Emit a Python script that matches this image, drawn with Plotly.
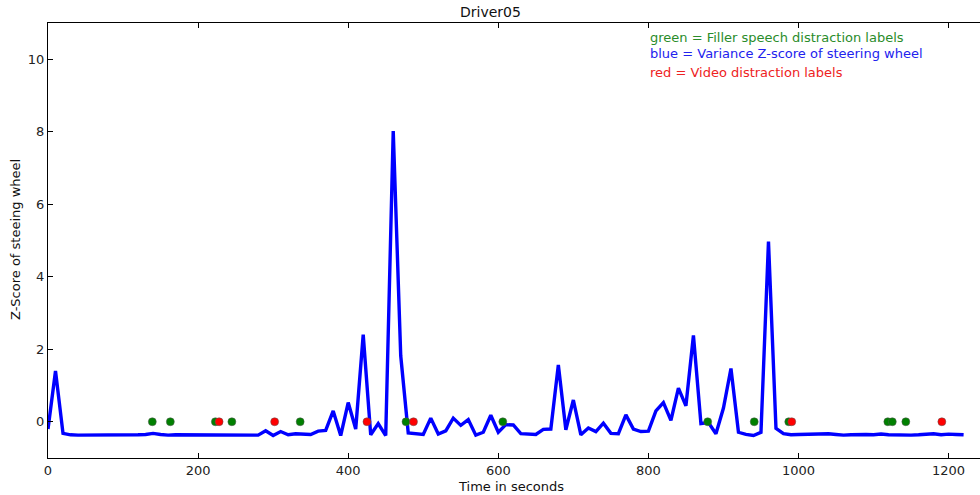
import plotly.graph_objects as go

# Variance Z-score of steering wheel, sampled every 10 s
time_s = list(range(0, 1230, 10))
zscore = [
    -0.20, 1.40, -0.32, -0.36, -0.37, -0.37, -0.38, -0.37, -0.37, -0.36,   # 0-90
    -0.37, -0.36, -0.36, -0.35, -0.32, -0.35, -0.37, -0.36, -0.36, -0.37,  # 100-190
    -0.36, -0.37, -0.36, -0.36, -0.37, -0.36, -0.37, -0.37, -0.37, -0.25,  # 200-290
    -0.38, -0.27, -0.36, -0.33, -0.35, -0.35, -0.26, -0.24, 0.30, -0.38,   # 300-390
    0.53, -0.20, 2.40, -0.36, -0.05, -0.38, 8.02, 1.82, -0.31, -0.34,      # 400-490
    -0.35, 0.10, -0.34, -0.25, 0.10, -0.10, 0.06, -0.37, -0.29, 0.18,      # 500-590
    -0.29, -0.08, -0.09, -0.33, -0.35, -0.35, -0.21, -0.20, 1.57, -0.22,   # 600-690
    0.60, -0.36, -0.17, -0.27, -0.04, -0.32, -0.33, 0.19, -0.20, -0.27,    # 700-790
    -0.26, 0.30, 0.53, 0.04, 0.93, 0.44, 2.38, -0.05, -0.02, -0.33,        # 800-890
    0.38, 1.47, -0.29, -0.35, -0.38, -0.29, 4.97, -0.18, -0.33, -0.36,     # 900-990
    -0.35, -0.34, -0.33, -0.34, -0.33, -0.35, -0.37, -0.36, -0.35, -0.35,  # 1000-1090
    -0.36, -0.34, -0.36, -0.37, -0.37, -0.37, -0.36, -0.35, -0.33, -0.36,  # 1100-1190
    -0.34, -0.35, -0.36,                                                   # 1200-1220
]

# Distraction label times (plotted at y = 0)
filler_speech_times = [139, 163, 223, 245, 336, 477, 606, 879, 941, 987, 1119, 1125, 1143]
video_times = [228, 302, 425, 487, 991, 1191]

x_ticks = [0, 200, 400, 600, 800, 1000, 1200]
y_ticks = [0, 2, 4, 6, 8, 10]

FONT = "DejaVu Sans"
L, T, B = 48, 23, 37
W, H = 980, 495
PW, PH = W - L, H - T - B

fig = go.Figure()
fig.add_trace(go.Scatter(
    x=time_s, y=zscore, mode="lines",
    line=dict(color="#0000ff", width=3.4),
    showlegend=False, hoverinfo="skip",
))
fig.add_trace(go.Scatter(
    x=filler_speech_times, y=[0] * len(filler_speech_times), mode="markers",
    marker=dict(color="#008000", size=8, line=dict(color="#555555", width=0.5)),
    showlegend=False,
))
fig.add_trace(go.Scatter(
    x=video_times, y=[0] * len(video_times), mode="markers",
    marker=dict(color="#ff0000", size=8, line=dict(color="#555555", width=0.5)),
    showlegend=False,
))

legend_lines = [
    ("green = Filler speech distraction labels", "#2a8c2a", 37),
    ("blue = Variance Z-score of steering wheel", "#2222ee", 53),
    ("red = Video distraction labels", "#ee2222", 73),
]
for text, color, ypx in legend_lines:
    fig.add_annotation(
        text=text, xref="paper", yref="paper",
        x=(648 - L) / PW, y=(H - B - ypx) / PH,
        xanchor="left", yanchor="middle", showarrow=False,
        font=dict(family=FONT, size=13, color=color),
    )

# Axis titles and plot title placed at pixel positions
fig.add_annotation(text="Time in seconds", xref="paper", yref="paper",
                   x=(511 - L) / PW, y=(H - B - 486) / PH,
                   xanchor="center", yanchor="middle", showarrow=False,
                   font=dict(family=FONT, size=13, color="#111111"))
fig.add_annotation(text="Z-Score of steeing wheel", xref="paper", yref="paper",
                   x=(15 - L) / PW, y=(H - B - 240) / PH, textangle=-90,
                   xanchor="center", yanchor="middle", showarrow=False,
                   font=dict(family=FONT, size=13, color="#111111"))
fig.add_annotation(text="Driver05", xref="paper", yref="paper",
                   x=(490 - L) / PW, y=(H - B - 12) / PH,
                   xanchor="center", yanchor="middle", showarrow=False,
                   font=dict(family=FONT, size=14, color="#111111"))

fig.update_layout(
    width=W, height=H,
    margin=dict(l=L, r=0, t=T, b=B, autoexpand=False),
    paper_bgcolor="white", plot_bgcolor="white",
    font=dict(family=FONT, size=13, color="#222222"),
    hovermode=False,
    xaxis=dict(
        range=[0, PW / 0.7505], tickvals=x_ticks, automargin=False,
        ticks="inside", ticklen=5, tickcolor="#000000",
        showline=True, linecolor="#000000", linewidth=1.2, mirror="ticks",
        showgrid=False, zeroline=False,
    ),
    yaxis=dict(
        range=[-1, 11], tickvals=y_ticks, automargin=False,
        ticks="inside", ticklen=5, tickcolor="#000000",
        showline=True, linecolor="#000000", linewidth=1.2,
        showgrid=False, zeroline=False,
    ),
)

fig.write_html(
    "out.html",
    config={"displayModeBar": False, "staticPlot": True},
    post_script="document.body.style.margin='0';document.body.style.padding='0';"
                "document.body.style.overflow='hidden';",
)
